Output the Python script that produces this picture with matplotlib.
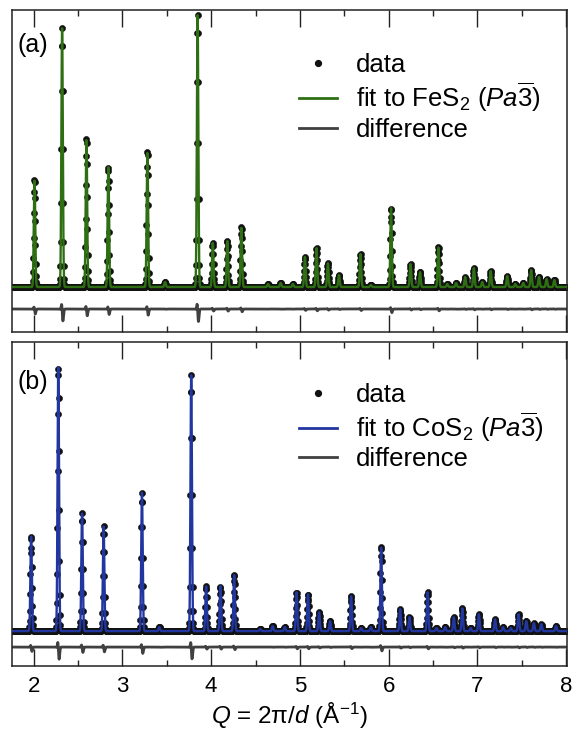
import numpy as np
import matplotlib
matplotlib.use("Agg")
import matplotlib.pyplot as plt
from matplotlib.lines import Line2D
from matplotlib.ticker import MultipleLocator

plt.rcParams['font.family'] = ['Liberation Sans', 'DejaVu Sans']
plt.rcParams['mathtext.fontset'] = 'custom'
plt.rcParams['mathtext.rm'] = 'Liberation Sans'
plt.rcParams['mathtext.it'] = 'Liberation Sans:italic'
plt.rcParams['mathtext.bf'] = 'Liberation Sans:bold'

# ---- data: peak positions (Q, 1/Angstrom) and heights (arb. units) ----
fes2_pos = [2.009, 2.320, 2.594, 2.841, 3.281, 3.480, 3.847, 4.018, 4.182, 4.340,
            4.640, 4.783, 4.920, 5.056, 5.187, 5.315, 5.440, 5.682, 5.800, 6.027,
            6.246, 6.353, 6.560, 6.660, 6.760, 6.862, 6.960, 7.055, 7.150, 7.336,
            7.427, 7.517, 7.606, 7.694, 7.780, 7.867]
fes2_h = [108, 259, 149, 120, 136, 5, 272, 44, 46, 60,
          3, 4, 3, 30, 39, 24, 12, 33, 2, 79,
          23, 15, 40, 3, 4, 10, 19, 5, 16, 11,
          3, 4, 17, 10, 8, 7]

cos2_pos = [1.971, 2.277, 2.545, 2.788, 3.220, 3.415, 3.775, 3.943, 4.104, 4.259,
            4.553, 4.693, 4.829, 4.962, 5.091, 5.216, 5.339, 5.577, 5.690, 5.800,
            5.915, 6.130, 6.235, 6.439, 6.539, 6.637, 6.734, 6.830, 6.924, 7.017,
            7.199, 7.289, 7.377, 7.464, 7.551, 7.636, 7.720, 7.886]
cos2_h = [95, 265, 118, 105, 139, 4, 257, 45, 45, 57,
          2, 5, 4, 39, 37, 19, 10, 35, 3, 4,
          85, 22, 14, 39, 3, 4, 14, 23, 3, 17,
          12, 4, 3, 17, 10, 8, 7, 5]

q_min, q_max, q_step = 1.75, 8.01, 0.003
width_data = 0.0080
width_fit = 0.0082
fit_shift = 0.0004

panels = [
    dict(pos=fes2_pos, h=fes2_h, color='#2f6f14', label='(a)', label_y=0.891,
         fit_label=r'fit to FeS$_2$ ($Pa\overline{3}$)', ylim=(-45, 277), doff=-22,
         leg_y=0.866),
    dict(pos=cos2_pos, h=cos2_h, color='#2236a0', label='(b)', label_y=0.876,
         fit_label=r'fit to CoS$_2$ ($Pa\overline{3}$)', ylim=(-35, 290), doff=-16,
         leg_y=0.874),
]

Q = np.arange(q_min, q_max, q_step)


def profile(pos, h, w, shift=0.0):
    y = np.zeros_like(Q)
    for p, a in zip(pos, h):
        y += a * np.exp(-0.5 * ((Q - p - shift) / w) ** 2)
    return y


fig = plt.figure(figsize=(5.74, 7.36), dpi=100)
W, H = 574.0, 736.0
left, right = 11.5, 567.0
boxes = [(10, 332), (342, 666)]

axes = []
for (top, bot), pdict in zip(boxes, panels):
    ax = fig.add_axes([left / W, 1 - bot / H, (right - left) / W, (bot - top) / H])
    data = profile(pdict['pos'], pdict['h'], width_data)
    fit = profile(pdict['pos'], pdict['h'], width_fit, fit_shift)
    diff = data - fit + pdict['doff']
    ax.plot(Q, data, 'o', ms=4.4, mfc='#111111', mec='#111111', mew=0.4, zorder=2)
    ax.plot(Q, fit, '-', color=pdict['color'], lw=1.7, zorder=3)
    ax.plot(Q, diff, '-', color='#404040', lw=2.0, zorder=2)
    ax.set_xlim(q_min, q_max)
    ax.set_ylim(*pdict['ylim'])
    ax.xaxis.set_major_locator(MultipleLocator(1))
    ax.xaxis.set_minor_locator(MultipleLocator(0.5))
    ax.tick_params(which='both', direction='in', top=True, bottom=True,
                   left=False, right=False, labelleft=False, width=1.0,
                   color='#222222')
    ax.tick_params(which='major', length=12)
    ax.tick_params(which='minor', length=4.5)
    ax.tick_params(axis='x', labelsize=16, pad=7)
    for s in ax.spines.values():
        s.set_linewidth(1.1)
        s.set_color('#222222')
    ax.text(0.011, pdict['label_y'], pdict['label'], transform=ax.transAxes,
            fontsize=18, ha='left', va='center')
    handles = [
        Line2D([], [], ls='none', marker='o', ms=4.2, color='#111111'),
        Line2D([], [], color=pdict['color'], lw=2),
        Line2D([], [], color='#404040', lw=2),
    ]
    ax.legend(handles, ['data', pdict['fit_label'], 'difference'],
              loc='upper left', bbox_to_anchor=(0.5176, pdict['leg_y']),
              frameon=False, fontsize=18.5, handlelength=1.48,
              handletextpad=0.74, labelspacing=0.14, borderaxespad=0,
              borderpad=0)
    axes.append(ax)

axes[0].tick_params(labelbottom=False)
axes[1].set_xlabel(r'$Q$ = 2π/$d$ (Å$^{-1}$)', fontsize=17.5, labelpad=3)

fig.savefig('out.png', dpi=100)
